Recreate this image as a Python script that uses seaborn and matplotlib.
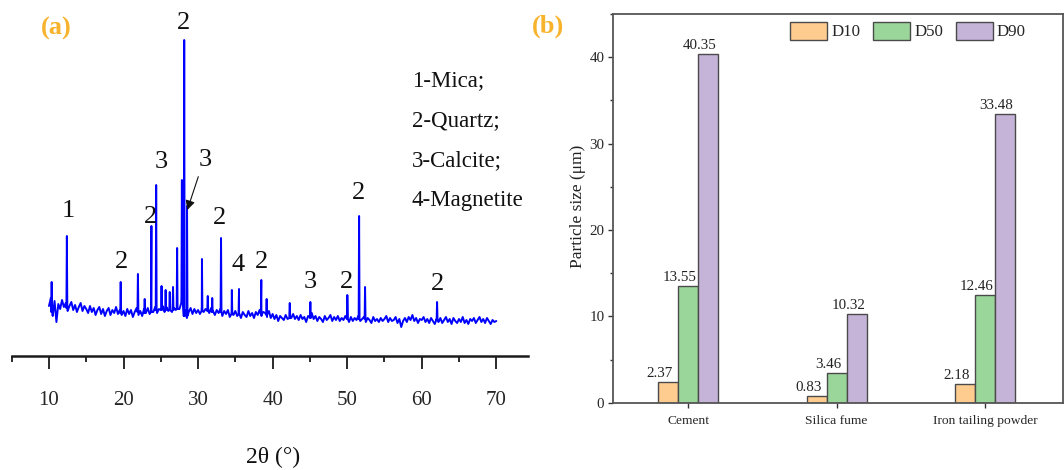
import numpy as np
import pandas as pd
import matplotlib
matplotlib.use("Agg")
import matplotlib.pyplot as plt
import seaborn as sns
from matplotlib.ticker import MultipleLocator

# ---------------- data: panel (a) XRD pattern ----------------
# noisy background read every 0.25 deg from 10 to 70 deg, a.u.
baseline = [
    50, 58, 40, 55, 34, 52, 47, 56, 49, 53, 45, 50, 54, 46, 51, 44, 49, 53, 45, 50,   # 10-15
    47, 43, 50, 44, 48, 41, 46, 49, 42, 47, 40, 45, 48, 41, 46, 43, 49, 42, 46, 41,   # 15-20
    45, 40, 47, 42, 46, 39, 44, 48, 41, 45, 40, 47, 43, 48, 42, 46, 44, 49, 43, 47,   # 20-25
    46, 50, 44, 49, 45, 51, 44, 48, 46, 52, 47, 53, 50, 46, 38, 44, 48, 42, 47, 43,   # 25-30
    46, 42, 49, 44, 47, 50, 43, 48, 45, 41, 46, 43, 47, 40, 45, 42, 46, 39, 44, 41,   # 30-35
    45, 40, 43, 38, 44, 41, 39, 45, 40, 43, 38, 44, 41, 46, 40, 44, 43, 39, 45, 38,   # 35-40
    42, 37, 41, 35, 40, 38, 36, 41, 37, 43, 38, 42, 37, 40, 36, 41, 37, 39, 34, 40,   # 40-45
    39, 43, 37, 40, 35, 39, 37, 34, 40, 36, 38, 41, 35, 39, 36, 40, 35, 38, 36, 40,   # 45-50
    37, 34, 39, 35, 38, 36, 40, 35, 37, 39, 34, 38, 36, 33, 39, 35, 37, 34, 38, 35,   # 50-55
    37, 40, 34, 38, 35, 36, 39, 33, 37, 29, 35, 38, 34, 39, 36, 41, 35, 38, 33, 37,   # 55-60
    36, 39, 34, 37, 33, 38, 35, 32, 37, 34, 38, 33, 36, 39, 34, 37, 32, 38, 35, 33,   # 60-65
    37, 34, 39, 33, 36, 32, 37, 35, 38, 33, 36, 39, 34, 37, 33, 38, 35, 32, 36, 34,   # 65-70
    35,
]
baseline_start = 10.0
baseline_step = 0.25

peak_2theta = [10.36, 12.40, 19.62, 21.93, 22.84, 23.74, 24.38, 25.10, 25.65, 26.20, 26.64,
               27.19, 27.83, 28.14, 28.52, 30.52, 31.30, 31.90, 33.08, 34.53, 35.49, 38.48,
               39.20, 42.30, 45.06, 50.02, 51.60, 52.40, 62.06]
peak_height = [74, 120, 74, 82, 57, 130, 171, 70, 66, 64, 69,
               108, 176, 316, 150, 97, 60, 58, 118, 66, 67, 76,
               57, 53, 54, 61, 140, 69, 54]
peak_foot = [44, 48, 43, 44, 43, 44, 46, 46, 46, 46, 46,
             47, 60, 40, 40, 45, 45, 44, 44, 42, 42, 42,
             41, 38, 38, 37, 37, 37, 36]

peak_labels = ["1", "2", "2", "2", "3", "2", "3", "2", "4", "3", "2", "2", "2"]
label_2theta = [12.63, 19.75, 28.01, 23.68, 25.02, 32.94, 30.93, 38.53, 35.39, 45.01, 49.91, 51.58, 62.06]
label_height = [144.7, 94.0, 332.7, 139.3, 194.3, 137.7, 196.0, 94.3, 91.0, 74.3, 73.7, 163.3, 72.0]
phase_legend = ["1-Mica;", "2-Quartz;", "3-Calcite;", "4-Magnetite"]

# ---------------- data: panel (b) particle sizes ----------------
materials = ["Cement", "Silica fume", "Iron tailing powder"]
fractions = ["D10", "D50", "D90"]
d10 = [2.37, 0.83, 2.18]
d50 = [13.55, 3.46, 12.46]
d90 = [40.35, 10.32, 33.48]

# ---------------- build tables ----------------
base_x = baseline_start + baseline_step * np.arange(len(baseline))
pk = np.array(peak_2theta)
xs = np.concatenate([base_x, pk - 0.06, pk, pk + 0.06])
ys = np.concatenate([baseline, peak_foot, peak_height, peak_foot])
order = np.argsort(xs, kind="stable")
xrd = pd.DataFrame({"two_theta": xs[order], "intensity": ys[order]})

sizes = pd.DataFrame({
    "Material": materials * 3,
    "Fraction": [f for f in fractions for _ in materials],
    "Size": d10 + d50 + d90,
})

# ---------------- style ----------------
sns.set_theme(style="ticks")
plt.rcParams["font.family"] = ["Liberation Serif", "DejaVu Serif"]
plt.rcParams["axes.unicode_minus"] = False

W, H = 1064, 470
fig = plt.figure(figsize=(W / 100, H / 100), dpi=100)
fig.patch.set_facecolor("white")

def fx(px):
    return px / W

def fy(py):
    return 1 - py / H

# ---------------- panel (a) ----------------
ax_y0 = 356
axa = fig.add_axes([fx(11.7), fy(ax_y0), fx(528 - 11.7), ax_y0 / H])
axa.set_facecolor("none")
sns.lineplot(data=xrd, x="two_theta", y="intensity", estimator=None, sort=False,
             color="#0000FF", linewidth=1.4, ax=axa)
axa.set_xlim(5, 5 + (528 - 11.7) / 7.455)
axa.set_ylim(0, ax_y0)
for s in ["left", "right", "top"]:
    axa.spines[s].set_visible(False)
axa.spines["bottom"].set_linewidth(1.8)
axa.spines["bottom"].set_color("#1a1a1a")
axa.set_yticks([])
axa.set_xticks([10, 20, 30, 40, 50, 60, 70])
axa.xaxis.set_minor_locator(MultipleLocator(5))
axa.tick_params(axis="x", which="major", direction="out", length=9.5, width=1.3,
                color="#1a1a1a", pad=16, labelsize=15)
axa.tick_params(axis="x", which="minor", direction="out", length=4.5, width=1.3, color="#1a1a1a")
axa.set_xlabel("")
axa.set_ylabel("")
for t, x, y in zip(peak_labels, label_2theta, label_height):
    axa.text(x, y, t, ha="center", va="center", fontsize=19, color="#111111")
axa.annotate("", xy=(28.55, 146), xytext=(30.03, 179.3),
             arrowprops=dict(arrowstyle="-|>", color="#111111", lw=0.8,
                             mutation_scale=14, shrinkA=0, shrinkB=0))
for i, t in enumerate(phase_legend):
    fig.text(fx(411.7), fy(80.7 + 40 * i), t, ha="left", va="center", fontsize=16.5, color="#111111")
fig.text(fx(273), fy(457), "2θ (°)", ha="center", va="center", fontsize=17, color="#111111")
fig.text(fx(56.6), fy(28), "(a)", ha="center", va="center", fontsize=19,
         fontweight="bold", color="#F7B32B")

# ---------------- panel (b) ----------------
L, R, T, B = 612.7, 1063.0, 14.0, 402.7
axb = fig.add_axes([fx(L), fy(B), fx(R - L), (B - T) / H])
palette = ["#FFCC8F", "#9AD69A", "#C5B3D8"]
sns.barplot(data=sizes, x="Material", y="Size", hue="Fraction", hue_order=fractions,
            palette=palette, saturation=1, width=0.405, gap=0,
            edgecolor="#4a4a4a", linewidth=1.0, ax=axb)
axb.set_xlim(-(688.3 - L) / 148.3, (R - 688.3) / 148.3)
axb.set_ylim(0, 45)
axb.set_yticks([0, 10, 20, 30, 40])
axb.yaxis.set_minor_locator(MultipleLocator(5))
axb.tick_params(axis="y", which="major", direction="out", length=3.5, width=1.0,
                color="#333333", labelsize=10.8, pad=2.5)
axb.tick_params(axis="y", which="minor", direction="out", length=2.2, width=1.0, color="#333333")
axb.tick_params(axis="x", which="major", direction="out", length=3.5, width=1.0,
                color="#333333", labelsize=9.7, pad=5)
for s in axb.spines.values():
    s.set_linewidth(1.3)
    s.set_color("#555555")
axb.set_xlabel("")
axb.set_ylabel("")
fig.text(fx(578), fy(206), "Particle size (μm)", rotation=90, ha="center", va="center",
         fontsize=12.5, color="#222222")

for cont, vals in zip(axb.containers, [d10, d50, d90]):
    for bar, v in zip(cont, vals):
        axb.annotate(f"{v:.2f}", xy=(bar.get_x() + bar.get_width() / 2, bar.get_height()),
                     xytext=(-6, 3.6), textcoords="offset points", ha="center", va="baseline",
                     fontsize=10.8, color="#222222")

handles, labels = axb.get_legend_handles_labels()
axb.legend(handles, labels, ncol=3, frameon=False, loc="center left",
           bbox_to_anchor=(fx(790), fy(31)), bbox_transform=fig.transFigure,
           handlelength=2.18, handleheight=1.25, handletextpad=0.25, columnspacing=0.75,
           borderpad=0, borderaxespad=0, fontsize=12.2)
fig.text(fx(548), fy(26), "(b)", ha="center", va="center", fontsize=19,
         fontweight="bold", color="#F7B32B")

fig.savefig("out.png", dpi=100, facecolor="white")
